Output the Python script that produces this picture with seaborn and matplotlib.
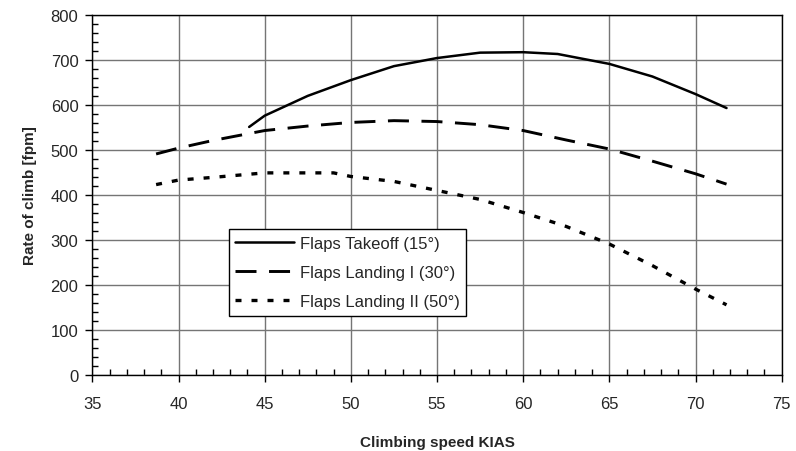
import seaborn as sns
import matplotlib.pyplot as plt
from matplotlib.ticker import MultipleLocator
import pandas as pd

sns.set_style('white')
plt.rcParams['font.family'] = ['Liberation Sans', 'DejaVu Sans']

# 数据
takeoff_x = [44.1, 45, 47.5, 50, 52.5, 55, 57.5, 60, 62, 65, 67.5, 70, 71.8]
takeoff_y = [551, 576, 620, 655, 686, 704, 716, 717, 713, 691, 663, 624, 593]

landing1_x = [38.7, 40, 42, 45, 47.5, 50, 52.5, 55, 57.5, 60, 62.5, 65, 67.5, 70, 71.8]
landing1_y = [491, 504, 521, 543, 553, 561, 565, 563, 556, 543, 522, 502, 475, 447, 424]

landing2_x = [38.7, 40, 42, 45, 47.5, 49, 50, 52.5, 55, 57.5, 60, 62.5, 65, 67.5, 70, 71.8]
landing2_y = [423, 433, 439, 449, 449, 449, 441, 430, 410, 390, 361, 330, 291, 243, 191, 156]

labels = ['Flaps Takeoff (15°)', 'Flaps Landing I (30°)', 'Flaps Landing II (50°)']

df = pd.concat([
    pd.DataFrame({'speed': takeoff_x, 'roc': takeoff_y, 'config': labels[0]}),
    pd.DataFrame({'speed': landing1_x, 'roc': landing1_y, 'config': labels[1]}),
    pd.DataFrame({'speed': landing2_x, 'roc': landing2_y, 'config': labels[2]}),
])

fig, ax = plt.subplots(figsize=(7.96, 4.52), dpi=100)
fig.subplots_adjust(left=0.116, right=0.982, top=0.965, bottom=0.168)

# 线宽和虚线样式
styles = {labels[0]: (1.8, None), labels[1]: (2.1, (7.2, 4.3)), labels[2]: (2.4, (1.8, 3.0))}
for lab in labels:
    lw, dash = styles[lab]
    sub = df[df['config'] == lab]
    sns.lineplot(data=sub, x='speed', y='roc', ax=ax, color='black',
                 linewidth=lw, label=lab, sort=False)
    if dash is not None:
        ax.lines[-1].set_dashes(dash)

ax.set_xlim(35, 75)
ax.set_ylim(0, 800)
ax.xaxis.set_major_locator(MultipleLocator(5))
ax.xaxis.set_minor_locator(MultipleLocator(1))
ax.yaxis.set_major_locator(MultipleLocator(100))
ax.yaxis.set_minor_locator(MultipleLocator(20))
ax.grid(True, which='major', color='#757575', linewidth=1)
ax.tick_params(axis='both', which='major', direction='out', length=5, width=1,
               labelsize=12, color='black', bottom=True, left=True)
ax.tick_params(axis='x', which='major', pad=10)
ax.tick_params(axis='y', which='major', pad=5)
ax.tick_params(axis='both', which='minor', direction='in', length=4, width=1,
               color='black', bottom=True, left=True)
for sp in ax.spines.values():
    sp.set_color('black')
    sp.set_linewidth(1)

ax.set_xlabel('Climbing speed KIAS', fontsize=11, fontweight='bold', labelpad=17)
ax.set_ylabel('Rate of climb [fpm]', fontsize=11, fontweight='bold', labelpad=10)

leg = ax.legend(loc='lower left', bbox_to_anchor=(0.198, 0.165), fontsize=12,
                frameon=True, fancybox=False, framealpha=1, edgecolor='black',
                handlelength=3.5, handletextpad=0.35, borderpad=0.4, labelspacing=0.85,
                borderaxespad=0)
leg.get_frame().set_linewidth(1)

plt.savefig('out.png', dpi=100)
